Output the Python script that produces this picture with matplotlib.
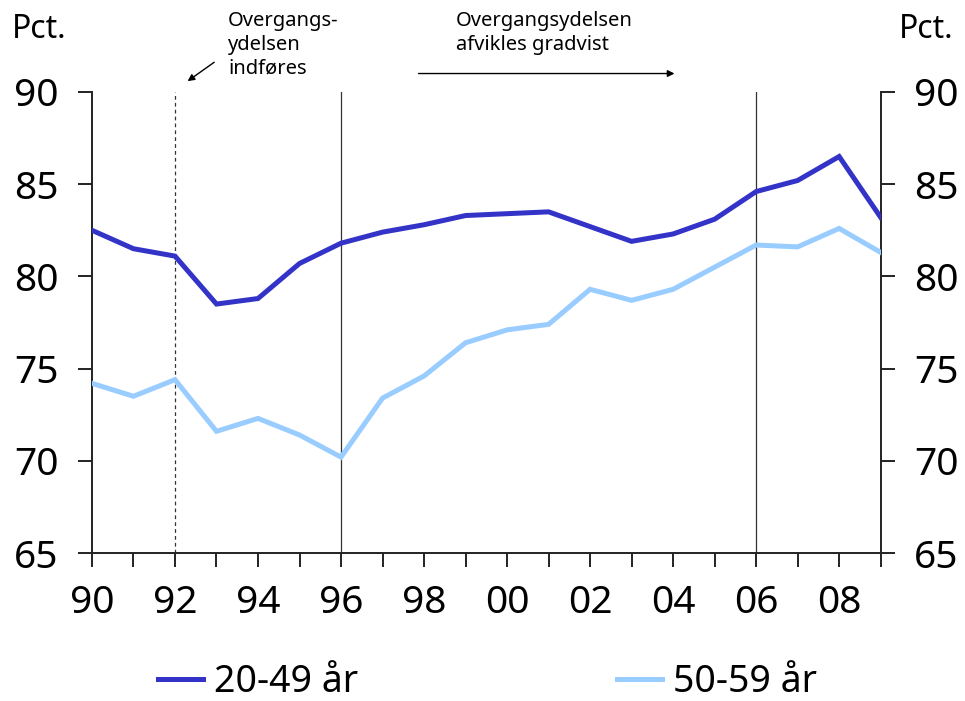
import matplotlib.pyplot as plt
from matplotlib.lines import Line2D

plt.rcParams['font.family'] = ['Noto Sans', 'DejaVu Sans']

# data
years = list(range(1990, 2010))
age_20_49 = [82.5, 81.5, 81.1, 78.5, 78.8, 80.7, 81.8, 82.4, 82.8, 83.3,
             83.4, 83.5, 82.7, 81.9, 82.3, 83.1, 84.6, 85.2, 86.5, 83.2]
age_50_59 = [74.2, 73.5, 74.4, 71.6, 72.3, 71.4, 70.2, 73.4, 74.6, 76.4,
             77.1, 77.4, 79.3, 78.7, 79.3, 80.5, 81.7, 81.6, 82.6, 81.3]
labels = ['20-49 år', '50-59 år']
yticks = [65, 70, 75, 80, 85, 90]
xticklabels = ['90', '', '92', '', '94', '', '96', '', '98', '', '00', '',
               '02', '', '04', '', '06', '', '08', '']

dark = '#3333C8'
light = '#99CCFF'

fig = plt.figure(figsize=(9.65, 7.01), dpi=100)
ax = fig.add_axes([0.0953, 0.2111, 0.8173, 0.6577])

# reference lines
ax.axvline(1992, color='#333333', lw=0.9, ls=(0, (3, 2.5)))
ax.axvline(1996, color='#333333', lw=0.9)
ax.axvline(2006, color='#333333', lw=0.9)

ax.plot(years, age_20_49, color=dark, lw=3.6, solid_joinstyle='miter', zorder=3)
ax.plot(years, age_50_59, color=light, lw=3.6, solid_joinstyle='miter', zorder=3)

ax.set_xlim(1990, 2009)
ax.set_ylim(65, 90)
ax.set_yticks(yticks)
ax.set_xticks(years)
ax.set_xticklabels(xticklabels)
ax.spines['top'].set_visible(False)
for s in ['left', 'right', 'bottom']:
    ax.spines[s].set_linewidth(1.4)
    ax.spines[s].set_color('#222222')
ax.tick_params(axis='y', left=True, right=True, labelleft=True, labelright=True,
               direction='out', length=10, width=1.4, labelsize=28, pad=14, color='#222222')
ax.tick_params(axis='x', direction='out', length=10, width=1.4, labelsize=28, pad=12,
               color='#222222')

# unit labels
fig.text(12 / 965, 1 - 30 / 701, 'Pct.', fontsize=23, va='center', ha='left')
fig.text(953 / 965, 1 - 30 / 701, 'Pct.', fontsize=23, va='center', ha='right')

# annotations
ax.annotate('', xy=(1992.25, 90.5), xytext=(1993.0, 91.7),
            xycoords='data', annotation_clip=False,
            arrowprops=dict(arrowstyle='-|>', color='black', lw=1.0, mutation_scale=10))
fig.text(228 / 965, 1 - 11 / 701, 'Overgangs-\nydelsen\nindføres', fontsize=14.5,
         va='top', ha='left', linespacing=1.25)
ax.annotate('', xy=(2004.1, 91.0), xytext=(1997.8, 91.0),
            xycoords='data', annotation_clip=False,
            arrowprops=dict(arrowstyle='-|>', color='black', lw=1.0, mutation_scale=10))
fig.text(456 / 965, 1 - 11 / 701, 'Overgangsydelsen\nafvikles gradvist', fontsize=14.5,
         va='top', ha='left', linespacing=1.25)

handles = [Line2D([], [], color=dark, lw=3.6), Line2D([], [], color=light, lw=3.6)]
fig.legend(handles, labels, loc='center', bbox_to_anchor=(0.505, 1 - 682 / 701), ncol=2,
           frameon=False, fontsize=27, handlelength=1.2, handletextpad=0.3,
           columnspacing=6.9, borderpad=0.2)

fig.savefig('out.png', dpi=100)
